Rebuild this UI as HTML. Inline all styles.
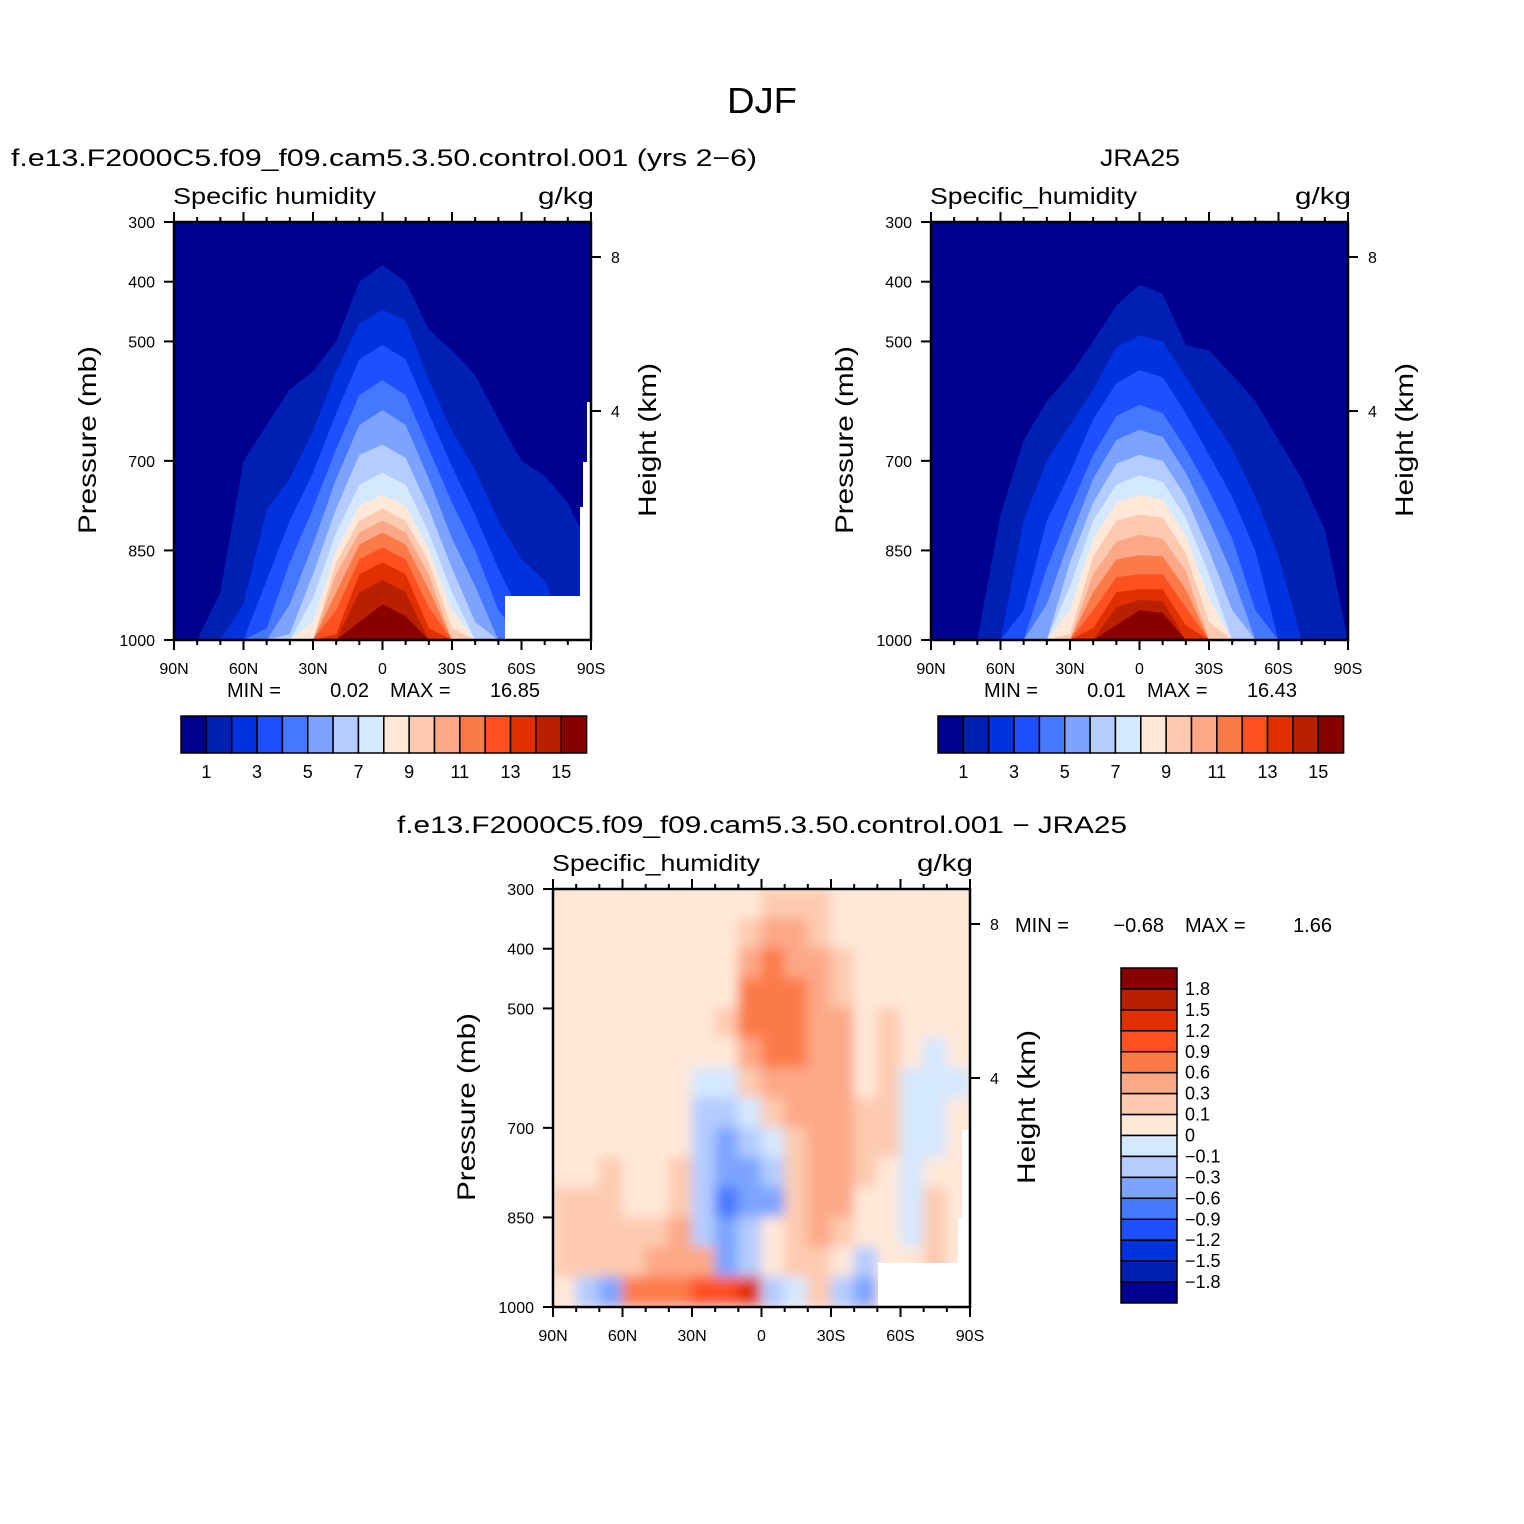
<!DOCTYPE html>
<html><head><meta charset="utf-8"><style>
html,body{margin:0;padding:0;background:#fff;}
svg{display:block;font-family:"Liberation Sans",sans-serif;}
</style></head><body>
<svg id="fig" width="1524" height="1524" viewBox="0 0 1524 1524" xmlns="http://www.w3.org/2000/svg">
<defs>
<filter id="soft" x="0" y="0" width="1" height="1"><feGaussianBlur stdDeviation="6"/></filter>
<clipPath id="clip3"><rect x="553" y="889" width="417" height="418"/></clipPath>
</defs>
<text x="762" y="113" font-size="36" text-anchor="middle" textLength="70" lengthAdjust="spacingAndGlyphs">DJF</text>
<g id="p1"></g>
<g id="p2"></g>
<g id="p3"></g>
</svg>
<script>
const NS="http://www.w3.org/2000/svg";
const colors=["#000090","#0020b4","#0032e0","#1e50ff","#4678ff","#7ca4ff","#b4ccff","#d4e8ff","#ffe8d8","#fdcab0","#fca886","#fc7a48","#ff5020","#e03000","#b82000","#880000"];
const lats=[90,80,70,60,50,40,30,20,10,0,-10,-20,-30,-40,-50,-60,-70,-80,-90];
const latTickLabels=["90N","60N","30N","0","30S","60S","90S"];
const presTicks=[300,400,500,700,850,1000];
const heightTicks=[8,4];
const levelLabels=["1","3","5","7","9","11","13","15"];
// model: pressure (mb) of top of each q-level region, per latitude 90N..90S
const modelLevels=[
[1000,1000,920,700,640,580,550,500,400,372,400,480,515,556,630,700,725,770,850],
[1000,1000,1000,940,782,730,650,550,470,447,465,565,650,715,800,865,900,1000,1000],
[1000,1000,1000,1000,900,800,720,620,530,506,530,620,710,790,880,960,1000,1000,1000],
[1000,1000,1000,1000,980,870,780,680,590,565,590,680,770,850,950,1000,1000,1000,1000],
[1000,1000,1000,1000,1000,940,840,730,640,615,640,730,830,910,1000,1000,1000,1000,1000],
[1000,1000,1000,1000,1000,990,890,780,690,673,695,780,880,970,1000,1000,1000,1000,1000],
[1000,1000,1000,1000,1000,1000,930,820,740,720,740,820,920,1000,1000,1000,1000,1000,1000],
[1000,1000,1000,1000,1000,1000,970,850,775,757,775,850,950,1000,1000,1000,1000,1000,1000],
[1000,1000,1000,1000,1000,1000,1000,870,800,780,800,870,980,1000,1000,1000,1000,1000,1000],
[1000,1000,1000,1000,1000,1000,1000,890,820,800,820,890,1000,1000,1000,1000,1000,1000,1000],
[1000,1000,1000,1000,1000,1000,1000,920,840,820,840,915,1000,1000,1000,1000,1000,1000,1000],
[1000,1000,1000,1000,1000,1000,1000,950,865,845,865,945,1000,1000,1000,1000,1000,1000,1000],
[1000,1000,1000,1000,1000,1000,1000,990,890,870,890,980,1000,1000,1000,1000,1000,1000,1000],
[1000,1000,1000,1000,1000,1000,1000,1000,920,900,920,1000,1000,1000,1000,1000,1000,1000,1000],
[1000,1000,1000,1000,1000,1000,1000,1000,970,940,960,1000,1000,1000,1000,1000,1000,1000,1000]
];
const jraLevels=[
[1000,1000,1000,790,665,600,556,500,440,405,420,506,515,556,600,665,730,815,1000],
[1000,1000,1000,1000,800,700,640,580,510,490,500,560,620,680,760,860,1000,1000,1000],
[1000,1000,1000,1000,950,800,720,630,570,548,560,620,690,760,850,1000,1000,1000,1000],
[1000,1000,1000,1000,1000,880,780,690,625,606,620,680,750,830,950,1000,1000,1000,1000],
[1000,1000,1000,1000,1000,940,830,730,665,648,660,720,800,890,1000,1000,1000,1000,1000],
[1000,1000,1000,1000,1000,1000,870,770,705,690,700,760,850,950,1000,1000,1000,1000,1000],
[1000,1000,1000,1000,1000,1000,910,800,740,724,735,795,890,1000,1000,1000,1000,1000,1000],
[1000,1000,1000,1000,1000,1000,950,830,770,757,765,825,930,1000,1000,1000,1000,1000,1000],
[1000,1000,1000,1000,1000,1000,990,860,800,790,795,855,970,1000,1000,1000,1000,1000,1000],
[1000,1000,1000,1000,1000,1000,1000,890,835,824,830,885,1000,1000,1000,1000,1000,1000,1000],
[1000,1000,1000,1000,1000,1000,1000,920,865,858,860,915,1000,1000,1000,1000,1000,1000,1000],
[1000,1000,1000,1000,1000,1000,1000,950,895,890,890,945,1000,1000,1000,1000,1000,1000,1000],
[1000,1000,1000,1000,1000,1000,1000,980,920,915,915,975,1000,1000,1000,1000,1000,1000,1000],
[1000,1000,1000,1000,1000,1000,1000,1000,945,933,935,1000,1000,1000,1000,1000,1000,1000,1000],
[1000,1000,1000,1000,1000,1000,1000,1000,975,950,955,1000,1000,1000,1000,1000,1000,1000,1000]
];
// difference grid: columns lat 85N..85S (10 deg), rows p 325..975 (50 mb)
const diffLats=[85,75,65,55,45,35,25,15,5,-5,-15,-25,-35,-45,-55,-65,-75,-85];
const diffPres=[325,375,425,475,525,575,625,675,725,775,825,875,925,975];
const diffValues=[
[0.05,0.05,0.05,0.05,0.05,0.05,0.05,0.05,0.05,0.05,0.2,0.2,0.2,0.05],
[0.05,0.05,0.05,0.05,0.05,0.05,0.05,0.05,0.05,0.05,0.2,0.2,0.2,-0.2],
[0.05,0.05,0.05,0.05,0.05,0.05,0.05,0.05,0.05,0.2,0.2,0.2,0.2,-0.4],
[0.05,0.05,0.05,0.05,0.05,0.05,0.05,0.05,0.05,0.05,0.05,0.2,0.2,0.7],
[0.05,0.05,0.05,0.05,0.05,0.05,0.05,0.05,0.05,0.05,0.05,0.2,0.4,0.8],
[0.05,0.05,0.05,0.05,0.05,0.05,0.05,0.05,0.05,0.2,0.2,0.4,0.5,0.9],
[0.05,0.05,0.05,0.05,0.05,0.05,-0.05,-0.2,-0.2,-0.2,-0.2,-0.2,0.4,1.0],
[0.05,0.05,0.05,0.05,0.2,0.05,-0.05,-0.2,-0.4,-0.5,-0.7,-0.4,-0.3,1.1],
[0.05,0.2,0.4,0.7,0.7,0.6,0.2,-0.05,-0.2,-0.4,-0.5,-0.2,-0.2,1.3],
[0.2,0.4,0.7,0.7,0.7,0.7,0.4,0.2,-0.05,-0.2,-0.3,0.05,0.05,-0.2],
[0.2,0.4,0.6,0.7,0.7,0.7,0.4,0.4,0.3,0.2,0.2,0.2,0.2,-0.05],
[0.2,0.2,0.4,0.6,0.6,0.6,0.4,0.4,0.4,0.4,0.4,0.4,0.2,0.2],
[0.05,0.05,0.2,0.2,0.4,0.4,0.4,0.4,0.4,0.4,0.4,0.2,0.05,-0.2],
[0.05,0.05,0.05,0.05,0.05,0.05,0.05,0.2,0.2,0.2,0.05,0.05,-0.2,-0.4],
[0.05,0.05,0.05,0.05,0.2,0.2,0.2,0.2,0.2,0.05,0.05,0.05,0.05,0.05],
[0.05,0.05,0.05,0.05,0.05,0.05,-0.05,-0.05,-0.05,-0.05,-0.05,-0.05,0.05,0.05],
[0.05,0.05,0.05,0.05,0.05,-0.05,-0.05,-0.05,-0.05,0.05,0.2,0.2,0.2,0.05],
[0.05,0.05,0.05,0.05,0.05,0.05,-0.05,0.05,0.05,0.05,0.05,0.05,0.05,0.05]
];
const diffBounds=[-1.8,-1.5,-1.2,-0.9,-0.6,-0.3,-0.1,0,0.1,0.3,0.6,0.9,1.2,1.5,1.8];
const diffLabels=["1.8","1.5","1.2","0.9","0.6","0.3","0.1","0","\u22120.1","\u22120.3","\u22120.6","\u22120.9","\u22121.2","\u22121.5","\u22121.8"];

function mk(tag,attrs,parent,txt){const e=document.createElementNS(NS,tag);for(const k in attrs)e.setAttribute(k,attrs[k]);if(txt!==undefined)e.textContent=txt;parent.appendChild(e);return e;}
function fit(e,len){e.setAttribute('textLength',len);e.setAttribute('lengthAdjust','spacingAndGlyphs');}

function axes(g,x0,y0){
  const W=417,H=418;
  const X=lat=>x0+(90-lat)/180*W;
  const Y=p=>y0+(p-300)/700*H;
  return {X,Y,W,H,x0,y0};
}

function frame(g,A,title,titleLen,unitLabel){
  const {X,Y,x0,y0,W,H}=A;
  const r=mk('rect',{x:x0,y:y0,width:W,height:H,fill:'none',stroke:'#000','stroke-width':2.5},g);
  
  for(let lat=90;lat>=-90;lat-=10){
    const major=lat%30===0;
    const x=X(lat);
    const t1=mk('line',{x1:x,x2:x,y1:y0,y2:y0-(major?10:5),stroke:'#000','stroke-width':2},g);
    
    const t2=mk('line',{x1:x,x2:x,y1:y0+H,y2:y0+H+(major?10:5),stroke:'#000','stroke-width':2},g);
    
  }
  latTickLabels.forEach((l,i)=>{
    const t=mk('text',{x:X(90-i*30),y:y0+H+34,'font-size':16,'text-anchor':'middle'},g,l);
    
  });
  presTicks.forEach(p=>{
    const l=mk('line',{x1:x0-10,x2:x0,y1:Y(p),y2:Y(p),stroke:'#000','stroke-width':2},g);
    
    const t=mk('text',{x:x0-19,y:Y(p)+6,'font-size':16,'text-anchor':'end'},g,String(p));
    
  });
  const hY={8:y0+35,4:y0+189};
  heightTicks.forEach(h=>{
    const l=mk('line',{x1:x0+W,x2:x0+W+10,y1:hY[h],y2:hY[h],stroke:'#000','stroke-width':2},g);
    
    const t=mk('text',{x:x0+W+20,y:hY[h]+6,'font-size':16},g,String(h));
    
  });
  const a=mk('text',{x:x0-1,y:y0-18,'font-size':23},g,title);
  fit(a,titleLen);
  
  const u=mk('text',{x:x0+W+3,y:y0-18,'font-size':23,'text-anchor':'end'},g,unitLabel);
  fit(u,56);
  
  const cy=y0+H/2+9;
  const yl=mk('text',{x:x0-78,y:cy,'font-size':25,'text-anchor':'middle',transform:`rotate(-90 ${x0-78} ${cy})`},g,'Pressure  (mb)');
  fit(yl,188);
  
  const hl=mk('text',{x:x0+W+65,y:cy,'font-size':25,'text-anchor':'middle',transform:`rotate(-90 ${x0+W+65} ${cy})`},g,'Height  (km)');
  fit(hl,154);
  
}

function contourPanel(g,x0,levels,subtitle,subx,subAnchor,subLen,varTitle,varLen,minTxt,maxTxt,missing){
  const A=axes(g,x0,222);
  const {X,Y,W,H}=A;
  const bg=mk('rect',{x:x0,y:222,width:W,height:H,fill:colors[0]},g);
  
  levels.forEach((arr,k)=>{
    let pts=arr.map((p,i)=>X(lats[i]).toFixed(1)+','+Y(p).toFixed(1));
    pts.push(X(-90)+','+Y(1000));pts.push(X(90)+','+Y(1000));
    const pg=mk('polygon',{points:pts.join(' '),fill:colors[k+1],'stroke-linejoin':'round'},g);
    
    
  });
  if(missing){
    const m=mk('polygon',{points:`${x0+331},${222+374} ${x0+406},${222+374} ${x0+406},${222+285} ${x0+409},${222+285} ${x0+409},${222+240} ${x0+413},${222+240} ${x0+413},${222+180} ${x0+417},${222+180} ${x0+417},640 ${x0+331},640`,fill:'#fff'},g);
    
  }
  frame(g,A,varTitle,varLen,'g/kg');
  const s=mk('text',{x:subx,y:166,'font-size':24,'text-anchor':subAnchor},g,subtitle);
  fit(s,subLen);
  
  const mn=mk('text',{x:x0+53,y:697,'font-size':20},g,'MIN =');
  
  const mv=mk('text',{x:x0+195,y:697,'font-size':20,'text-anchor':'end'},g,minTxt);
  
  const xn=mk('text',{x:x0+216,y:697,'font-size':20},g,'MAX =');
  
  const xv=mk('text',{x:x0+366,y:697,'font-size':20,'text-anchor':'end'},g,maxTxt);
  
  const cx0=x0+7,bw=25.35;
  colors.forEach((c,i)=>{
    const b=mk('rect',{x:cx0+i*bw,y:716,width:bw,height:37,fill:c,stroke:'#000','stroke-width':1.5},g);
    
  });
  levelLabels.forEach((l,i)=>{
    const t=mk('text',{x:cx0+(1+2*i)*bw,y:778,'font-size':18,'text-anchor':'middle'},g,l);
    
  });
}

contourPanel(document.getElementById('p1'),174,modelLevels,'f.e13.F2000C5.f09_f09.cam5.3.50.control.001  (yrs  2\u22126)',11,'start',746,'Specific  humidity',203,'0.02','16.85',true);
contourPanel(document.getElementById('p2'),931,jraLevels,'JRA25',1140,'middle',80,'Specific_humidity',207,'0.01','16.43',false);

(function(){
  const g=document.getElementById('p3');
  const A=axes(g,553,889);
  const {X,Y}=A;
  function colorFor(v){let i=0;while(i<diffBounds.length&&v>diffBounds[i])i++;return colors[i];}
  const clipG=mk('g',{'clip-path':'url(#clip3)'},g);
  
  const inner=mk('g',{filter:'url(#soft)'},clipG);
  mk('rect',{x:540,y:876,width:445,height:445,fill:colors[8]},inner);
  diffLats.forEach((lat,i)=>{
    diffPres.forEach((p,j)=>{
      const x1=X(lat+5),x2=X(lat-5),y1=Y(p-25),y2=Y(p+25);
      const c=mk('rect',{x:x1-0.5,y:y1-0.5,width:x2-x1+1,height:y2-y1+1,fill:colorFor(diffValues[i][j])},inner);
      
      
    });
  });
  const m=mk('polygon',{points:'878,1263 958,1263 958,1218 962,1218 962,1130 970,1130 970,1307 878,1307',fill:'#fff'},g);
  
  frame(g,A,'Specific_humidity',208,'g/kg');
  const s=mk('text',{x:762,y:833,'font-size':24,'text-anchor':'middle'},g,'f.e13.F2000C5.f09_f09.cam5.3.50.control.001  \u2212  JRA25');
  fit(s,730);
  
  const mn=mk('text',{x:1015,y:932,'font-size':20},g,'MIN =');
  
  const mv=mk('text',{x:1164,y:932,'font-size':20,'text-anchor':'end'},g,'\u22120.68');
  
  const xn=mk('text',{x:1185,y:932,'font-size':20},g,'MAX =');
  
  const xv=mk('text',{x:1332,y:932,'font-size':20,'text-anchor':'end'},g,'1.66');
  
  const bh=335/16;
  for(let i=0;i<16;i++){
    const b=mk('rect',{x:1121,y:968+i*bh,width:56,height:bh,fill:colors[15-i],stroke:'#000','stroke-width':1.5},g);
    
  }
  diffLabels.forEach((l,i)=>{
    const t=mk('text',{x:1185,y:968+(i+1)*bh+6,'font-size':18},g,l);
    
  });
})();
</script>
</body></html>
